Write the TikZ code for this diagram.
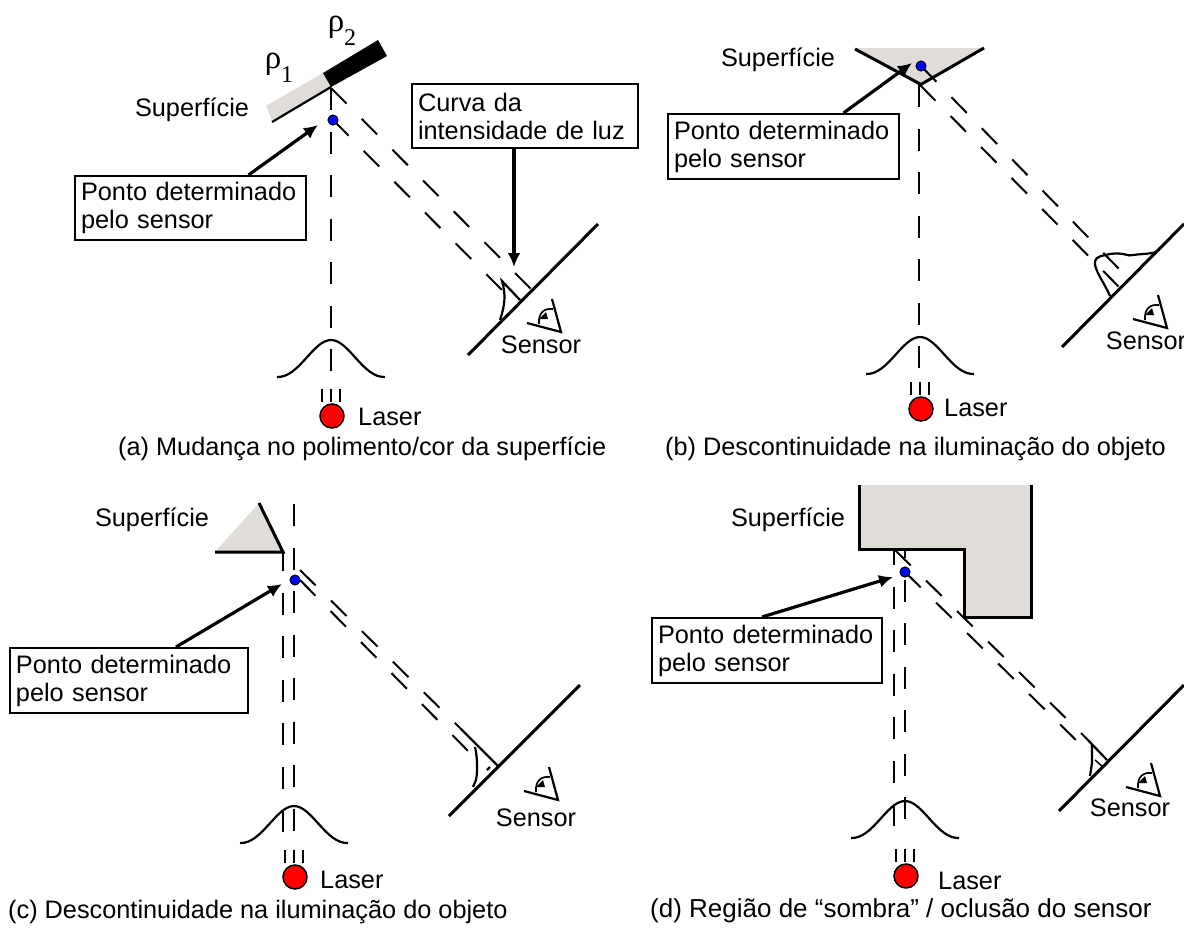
\documentclass[tikz,border=0pt]{standalone}
\usepackage{fontspec}
\setmainfont{Liberation Sans}
\newfontfamily\rhofont{Liberation Serif}
\usetikzlibrary{arrows.meta}
\definecolor{cinza}{HTML}{E0DCD7}

\begin{document}
\begin{tikzpicture}[x=1pt,y=-1pt,
	txt/.style={font=\fontsize{25.3}{28}\selectfont,inner sep=0pt},
	rot/.style={font=\rhofont\fontsize{33}{33}\selectfont,inner sep=0pt},
	caixa/.style={draw,line width=2pt,fill=white,font=\fontsize{25.3}{28}\selectfont,align=left,inner sep=6pt,anchor=north west},
	seta/.style={line width=3.2pt,-{Latex[length=14pt,width=13pt]}},
	tr/.style={line width=2pt,dash pattern=on 22pt off 21.5pt},
	linha/.style={line width=3pt},
	fino/.style={line width=2.2pt},
	ponto/.style={circle,draw=black,fill=blue,line width=.8pt,minimum size=10pt,inner sep=0pt}]
	\useasboundingbox (0,0) rectangle (1184,927);
	% lasers e curvas gaussianas
	\foreach \i/\px/\py/\ly/\tx/\ty in {a/331/340/416/358/417,b/920/337/409/944/408,c/294/806/877/320/880,d/905/801/876/938/881}{
		\draw[fino] (\px-54,\py+37) .. controls (\px-32,\py+38) and (\px-18,\py) .. (\px,\py) .. controls (\px+18,\py) and (\px+32,\py+38) .. (\px+54,\py+37);
		\node[circle,draw=black,fill=red,line width=1.5pt,minimum size=24pt,inner sep=0pt] (L\i) at (\px+1,\ly) {};
		\foreach \d in {-9,0,9}
			\draw[line width=1.7pt] (\px+\d,\ly-27) -- (\px+\d,\ly-14);
		\node[txt,anchor=west] (t\i) at (\tx,\ty) {Laser};
	}
	% olhos dos sensores
	\foreach \ox/\oy in {0/0,606/-4,-3/468,599/464}{
		\begin{scope}[shift={(\ox,\oy)}]
			\draw[fino] (527,323) -- (561,332) -- (552,299);
			\draw[line width=1.7pt] (539,324) .. controls (538,312) and (545,308) .. (553,309);
			\fill (539,319) -- (546,312) -- (548,319) -- cycle;
		\end{scope}
	}

	% (a)
	\fill[cinza] (266,106) -- (323,73) -- (331,87) -- (272,120) -- cycle;
	\fill (323,73) -- (378,40) -- (387,56) -- (331,87) -- cycle;
	\draw[fino] (272,122) -- (331,87);
	\node[ponto] (Pa) at (333,120) {};
	\coordinate (Ea) at (331,88);
	\coordinate (Fa) at (531,289);
	\coordinate (Ga) at (502,290);
	\draw[tr] (331,88) -- (331,372);
	\draw[tr] (Ea) -- (Fa);
	\draw[tr] (Pa.center) -- (Ga);
	\node[ponto] at (Pa) {};
	\draw[linha] (468,355) -- (598,224);
	\draw[fino] (500,320) .. controls (505,305) and (506,295) .. (502,281) -- (520,300);
	\node[rot] (r1) at (279,68) {ρ\raisebox{-.42em}{\fontsize{24}{24}\selectfont 1}};
	\node[rot] (r2) at (342,31) {ρ\raisebox{-.42em}{\fontsize{24}{24}\selectfont 2}};
	\node[txt] (Sa) at (192,110) {Superfície};
	\node[caixa,text width=219pt,minimum height=63pt] (Ca) at (74,175) {Ponto determinado\\pelo sensor};
	\node[caixa,text width=214pt,minimum height=64pt] (Da) at (411,83) {Curva da\\intensidade de luz};
	\coordinate (Aa) at (318,125);
	\coordinate (Ba) at (514,267);
	\draw[seta] ([xshift=58pt]Ca.north) -- (Aa);
	\draw[seta] (Da.south-|Ba) -- (Ba);
	\node[txt] (Na) at (541,345) {Sensor};
	\node[txt,anchor=west] (Ta) at (118,449) {(a) Mudança no polimento/cor da superfície};

	% (b)
	\fill[cinza] (855,48) -- (984,48) -- (920,85) -- cycle;
	\draw[linha] (855,49) -- (922,85);
	\draw[linha] (984,48) -- (920,85);
	\node[ponto] (Pb) at (921,66) {};
	\coordinate (Eb) at (920,85);
	\coordinate (Fb) at (1122,272);
	\coordinate (Gb) at (1119,287);
	\draw[tr] (919,85) -- (919,372);
	\draw[tr] (Pb.center) -- (Fb);
	\draw[tr] (Eb) -- (Gb);
	\node[ponto] at (Pb) {};
	\draw[linha] (1062,347) -- (1184,224);
	\draw[fino] (1110,296) .. controls (1104,282) and (1094,270) .. (1095,262) .. controls (1096,255) and (1104,256) .. (1110,254) .. controls (1125,252) and (1128,257) .. (1133,255) .. controls (1140,254) and (1150,254) .. (1156,252);
	\node[txt] (Sb) at (778,60) {Superfície};
	\node[caixa,text width=219pt,minimum height=65pt] (Cb) at (667,113) {Ponto determinado\\pelo sensor};
	\coordinate (Ab) at (912,63);
	\draw[seta] ([xshift=60pt]Cb.north) -- (Ab);
	\node[txt] (Nb) at (1146,341) {Sensor};
	\node[txt,anchor=west] (Tb) at (665,449) {(b) Descontinuidade na iluminação do objeto};

	% (c)
	\fill[cinza] (259,503) -- (283,552) -- (215,552) -- cycle;
	\draw[linha] (259,503) -- (283,552) -- (215,552);
	\node[ponto] (Pc) at (295,580) {};
	\coordinate (Ec) at (300,570);
	\coordinate (Fc) at (498,766);
	\coordinate (Gc) at (300,580);
	\coordinate (Hc) at (470,753);
	\coordinate (Jc) at (460,728);
	\draw[tr] (294,504) -- (294,842);
	\draw[tr,dash phase=3pt] (283,552) -- (283,842);
	\draw[tr] (Ec) -- (Jc);
	\draw[tr] (Gc) -- (Hc);
	\node[ponto] at (Pc) {};
	\draw[fino] (Jc) -- (Fc);
	\draw[linha] (449,816) -- (580,685);
	\draw[fino] (475,747) .. controls (477,755) and (478,770) .. (476,780) -- (473,787);
	\draw[fino] (487,770) -- (490,767);
	\node[txt] (Sc) at (152,520) {Superfície};
	\node[caixa,text width=226pt,minimum height=65pt] (Cc) at (9,647) {Ponto determinado\\pelo sensor};
	\coordinate (Ac) at (282,584);
	\draw[seta] ([xshift=47pt]Cc.north) -- (Ac);
	\node[txt] (Nc) at (536,818) {Sensor};
	\node[txt,anchor=west] (Tc) at (8,912) {(c) Descontinuidade na iluminação do objeto};

	% (d)
	\fill[cinza] (859,485) -- (1031,485) -- (1031,617) -- (964,617) -- (964,549) -- (859,549) -- cycle;
	\draw[linha] (859,485) -- (859,549) -- (964,549) -- (964,617) -- (1031,617) -- (1031,485);
	\node[ponto] (Pd) at (905,572) {};
	\coordinate (Ed) at (895,550);
	\coordinate (Fd) at (1107,760);
	\coordinate (Gd) at (1080,744);
	\coordinate (Jd) at (1085,737);
	\draw[tr,dash phase=7pt] (894,550) -- (894,836);
	\draw[tr,dash phase=14pt] (905,550) -- (905,836);
	\draw[tr] (Ed) -- (Jd);
	\draw[tr] (Pd.center) -- (Gd);
	\node[ponto] at (Pd) {};
	\draw[fino] (Jd) -- (Fd);
	\draw[linha] (1059,811) -- (1184,685);
	\draw[fino] (1092,745) -- (1092,763) -- (1090,776);
	\draw[line width=1.5pt] (1095,760) -- (1103,767);
	\node[txt] (Sd) at (788,520) {Superfície};
	\node[caixa,text width=218pt,minimum height=65pt] (Cd) at (651,617) {Ponto determinado\\pelo sensor};
	\coordinate (Ad) at (893,577);
	\draw[seta] ([xshift=-5pt]Cd.north) -- (Ad);
	\node[txt] (Nd) at (1130,808) {Sensor};
	\node[txt,anchor=west,font=\fontsize{26}{28}\selectfont] (Td) at (650,911) {(d) Região de “sombra” / oclusão do sensor};
\end{tikzpicture}
\end{document}
